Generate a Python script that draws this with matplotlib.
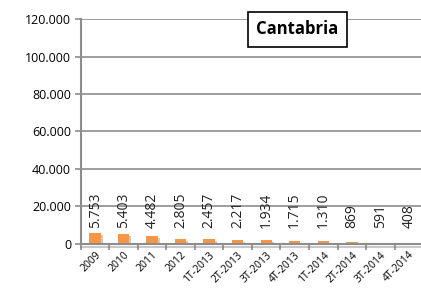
import numpy as np
import matplotlib
matplotlib.use('Agg')
import matplotlib.pyplot as plt
import matplotlib.patheffects as pe

# data
periodos = ['2009', '2010', '2011', '2012', '1T-2013', '2T-2013', '3T-2013', '4T-2013',
            '1T-2014', '2T-2014', '3T-2014', '4T-2014']
valores = [5753, 5403, 4482, 2805, 2457, 2217, 1934, 1715, 1310, 869, 591, 408]
etiquetas = ['5.753', '5.403', '4.482', '2.805', '2.457', '2.217', '1.934', '1.715',
             '1.310', '869', '591', '408']
yticks = [0, 20000, 40000, 60000, 80000, 100000, 120000]
ytick_labels = ['0', '20.000', '40.000', '60.000', '80.000', '100.000', '120.000']

plt.rcParams['font.family'] = ['Open Sans', 'DejaVu Sans']

fig = plt.figure(figsize=(4.21, 2.89), dpi=100)
ax = fig.add_axes([0.192, 0.156, 0.813, 0.778])

grid_col = '#8c8c8c'
x = np.arange(len(periodos))
bars = ax.bar(x, valores, width=0.4, color='#f79646', zorder=3,
              path_effects=[pe.SimplePatchShadow(offset=(1.5, -1.5), shadow_rgbFace='#999999', alpha=0.5),
                            pe.Normal()])

for xi, lab in zip(x, etiquetas):
    ax.text(xi, 8500, lab, rotation=90, ha='center', va='bottom', fontsize=10, color='#222222', zorder=4)

ax.set_xlim(-0.5, len(periodos) - 0.5)
ax.set_ylim(0, 120000)
ax.set_yticks(yticks)
ax.set_yticklabels(ytick_labels, fontsize=9)
ax.yaxis.grid(True, color=grid_col, linewidth=1.2, zorder=0)
ax.set_axisbelow(True)

ax.set_xticks(x)
ax.set_xticklabels(periodos, rotation=45, ha='right', rotation_mode='anchor', fontsize=7.5)
ax.set_xticks(np.arange(-0.5, len(periodos)), minor=True)
ax.tick_params(axis='x', which='major', length=0, pad=4)
ax.tick_params(axis='x', which='minor', length=4, color=grid_col, width=1.2)
ax.tick_params(axis='y', length=4, color=grid_col, width=1.2, pad=3)

for s in ['top', 'right']:
    ax.spines[s].set_visible(False)
for s in ['left', 'bottom']:
    ax.spines[s].set_color(grid_col)
    ax.spines[s].set_linewidth(1.5)
ax.spines['bottom'].set_zorder(5)
ax.spines['bottom'].set_path_effects([pe.SimpleLineShadow(offset=(0, -2), shadow_color='#777777', alpha=0.4),
                                      pe.Normal()])

fig.text(0.706, 0.898, 'Cantabria', ha='center', va='center', fontsize=12, fontweight='bold',
         bbox=dict(boxstyle='square,pad=0.5', facecolor='white', edgecolor='black', linewidth=1.2))

fig.savefig('out.png', dpi=100)
